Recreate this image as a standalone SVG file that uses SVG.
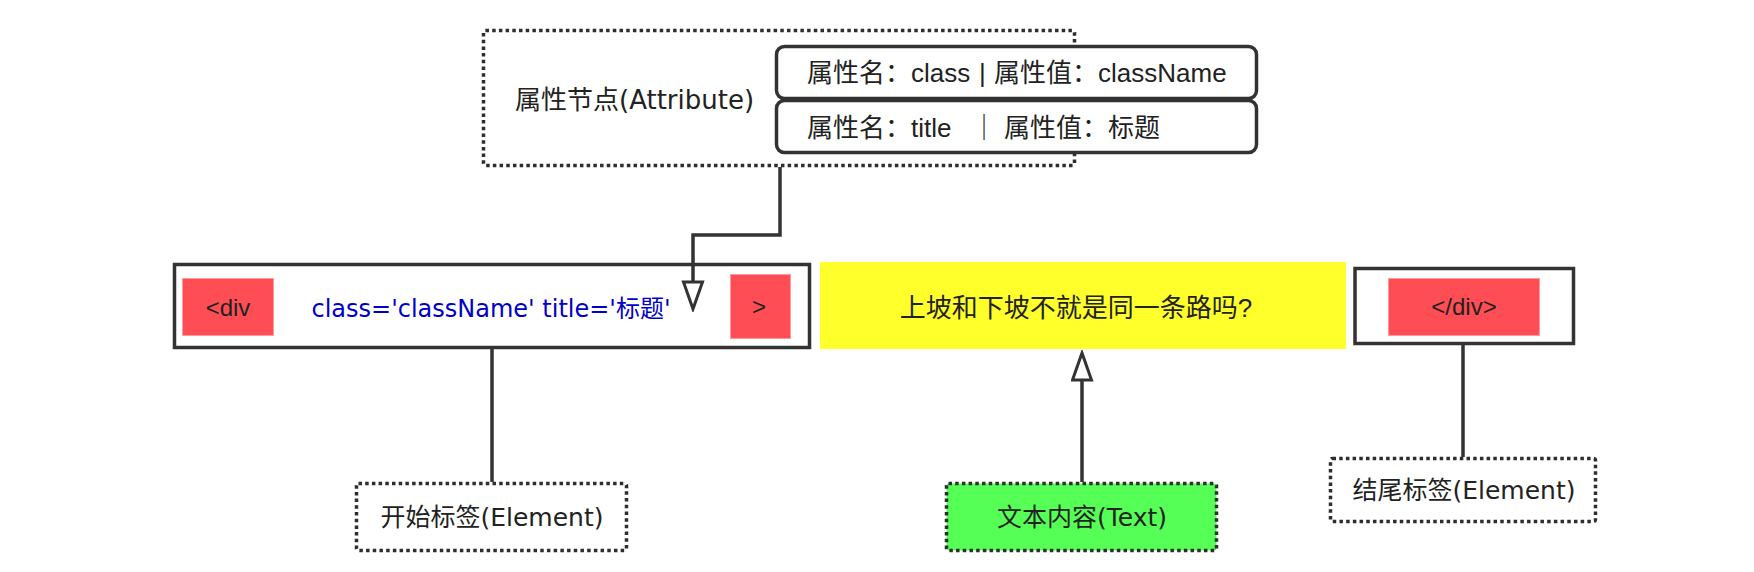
<svg xmlns="http://www.w3.org/2000/svg" width="1754" height="572" viewBox="0 0 1754 572">
  <style>
    .dotted { fill: #ffffff; stroke: #2e2e2e; stroke-width: 3.5; stroke-dasharray: 3.5 3.2; }
    .frame { fill: #ffffff; stroke: #333333; stroke-width: 3.5; }
    .row { fill: #ffffff; stroke: #333333; stroke-width: 3.5; }
    .tag { fill: #ff4d55; stroke: #ff9a9a; stroke-width: 1; }
    .hand { font-family: "DejaVu Sans", "Noto Sans CJK SC", sans-serif; fill: #222222; }
    .plain { font-family: "Liberation Sans", "Noto Sans CJK SC", sans-serif; fill: #222222; }
    .conn { fill: none; stroke: #333333; stroke-width: 3.5; }
  </style>
  <defs>
    <marker id="hollow" markerUnits="userSpaceOnUse" viewBox="0 0 32 24" markerWidth="32" markerHeight="24" refX="2" refY="11.5" orient="auto">
      <path d="M2,2 L29,11.5 L2,21 Z" fill="#ffffff" stroke="#333333" stroke-width="3" stroke-linejoin="miter"/>
    </marker>
  </defs>
  <rect width="1754" height="572" fill="#ffffff"/>

  <g id="attribute-node">
    <rect class="dotted" x="483.5" y="30.5" width="591" height="135" rx="2"/>
    <text class="hand" x="515" y="109" font-size="26">属性节点(Attribute)</text>
  </g>
  <g id="attr-class">
    <rect class="row" x="776.5" y="46.5" width="480" height="52" rx="8"/>
    <text class="plain" x="807" y="82" font-size="26">属性名：class<tspan x="979">|</tspan><tspan x="994">属性值：className</tspan></text>
  </g>
  <g id="attr-title">
    <rect class="row" x="776.5" y="100.5" width="480" height="52" rx="8"/>
    <text class="plain" x="807" y="137" font-size="26">属性名：title<tspan x="971">｜</tspan><tspan x="1004">属性值：标题</tspan></text>
  </g>

  <g id="start-tag">
    <rect class="frame" x="174.5" y="264.5" width="635" height="83"/>
    <rect class="tag" x="182.5" y="278.5" width="91" height="57"/>
    <text class="plain" x="228" y="316" font-size="24" text-anchor="middle">&lt;div</text>
    <text x="491" y="317" font-size="24" text-anchor="middle" font-family="DejaVu Sans, Noto Sans CJK SC, sans-serif" fill="#0000c8">class='className' title='标题'</text>
    <rect class="tag" x="730.5" y="274.5" width="60" height="64"/>
    <text class="plain" x="759" y="315" font-size="24" text-anchor="middle">&gt;</text>
  </g>

  <g id="text-content">
    <rect x="820" y="262" width="526" height="87" fill="#ffff2b"/>
    <text class="plain" x="1076" y="317" font-size="26" text-anchor="middle">上坡和下坡不就是同一条路吗?</text>
  </g>

  <g id="end-tag">
    <rect class="frame" x="1355" y="268.5" width="218.5" height="75"/>
    <rect class="tag" x="1388.5" y="278.5" width="151" height="57"/>
    <text class="plain" x="1464" y="315" font-size="24" text-anchor="middle">&lt;/div&gt;</text>
  </g>

  <g id="start-label">
    <rect class="dotted" x="356.5" y="483.5" width="270" height="67" rx="2"/>
    <text class="hand" x="492" y="526" font-size="25" text-anchor="middle">开始标签(Element)</text>
  </g>
  <g id="text-label">
    <rect class="dotted" x="946.5" y="483.5" width="270" height="67" rx="2" style="fill:#55ff55"/>
    <text class="hand" x="1082" y="526" font-size="25" text-anchor="middle">文本内容(Text)</text>
  </g>
  <g id="end-label">
    <rect class="dotted" x="1330.5" y="458.5" width="265" height="63" rx="2"/>
    <text class="hand" x="1464" y="499" font-size="25" text-anchor="middle">结尾标签(Element)</text>
  </g>

  <g id="connectors">
    <path class="conn" d="M780,167 V235 H693 V282" marker-end="url(#hollow)"/>
    <path class="conn" d="M1082,482 V380" marker-end="url(#hollow)"/>
    <path class="conn" d="M492,349 V482"/>
    <path class="conn" d="M1463,345 V457"/>
  </g>
</svg>
